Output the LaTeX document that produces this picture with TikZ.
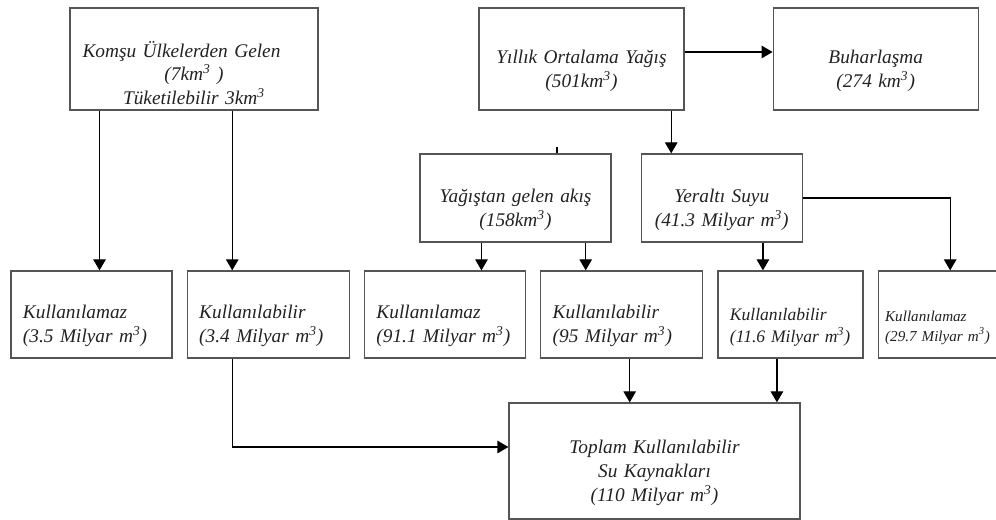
\documentclass[tikz,border=0pt]{standalone}
\usepackage{fontspec}
\setmainfont{Liberation Serif}
\usepackage{tikz}
\usetikzlibrary{arrows.meta,positioning,calc}
\definecolor{Ink}{HTML}{222222}
\definecolor{Frame}{HTML}{555555}
\tikzset{
  drop/.style={execute at begin node={\rule{0pt}{#1}}},
  box/.style={draw=Frame,line width=0.7pt,fill=white,minimum height=1.74cm,font=\fontsize{11}{13.5}\selectfont\itshape,text=Ink,inner sep=0pt,drop=21pt},
  cbox/.style={box,text width=#1,align=center,inner xsep=0pt},
  leftbox/.style={box,text width=#1,align=left,inner xsep=0.24cm},
  arr/.style={-{Triangle[length=2.2mm,width=2.5mm]},draw=black,line width=0.7pt},
  wire/.style={draw=black,line width=0.7pt}
}

\begin{document}
\begin{tikzpicture}[node distance=0.28cm]
  \useasboundingbox (0,0) rectangle (19.92,10.4);
  % top row
  \node[cbox=4.96cm,minimum height=2.04cm,drop=25pt] (komsu) at (3.88,9.22) {Komşu Ülkelerden Gelen\hspace*{0.5cm}\mbox{}\\(7km\textsuperscript{3} )\\Tüketilebilir 3km\textsuperscript{3}};
  \node[cbox=4.1cm,minimum height=2.04cm,drop=15.5pt] (yagis) at (11.63,9.22) {Yıllık Ortalama Yağış\\(501km\textsuperscript{3})};
  \node[cbox=4.1cm,minimum height=2.04cm,drop=15.5pt,right=1.76cm of yagis] (buhar) {Buharlaşma\\(274 km\textsuperscript{3})};
  % middle row
  \node[cbox=3.82cm,minimum height=1.76cm] (akis) at (10.31,6.44) {Yağıştan gelen akış\\(158km\textsuperscript{3})};
  \node[cbox=3.22cm,minimum height=1.76cm,right=0.58cm of akis] (yeralti) {Yeraltı Suyu\\(41.3 Milyar m\textsuperscript{3})};
  % bottom row
  \node[leftbox=2.74cm] (kmaz1) at (1.83,4.11) {Kullanılamaz\\(3.5 Milyar m\textsuperscript{3})};
  \node[leftbox=2.76cm,right=of kmaz1] (kbilir1) {Kullanılabilir\\(3.4 Milyar m\textsuperscript{3})};
  \node[leftbox=2.74cm,right=of kbilir1] (kmaz2) {Kullanılamaz\\(91.1 Milyar m\textsuperscript{3})};
  \node[leftbox=2.76cm,right=of kmaz2] (kbilir2) {Kullanılabilir\\(95 Milyar m\textsuperscript{3})};
  \node[leftbox=2.42cm,right=of kbilir2,font=\fontsize{10}{12.5}\selectfont\itshape] (kbilir3) {Kullanılabilir\\(11.6 Milyar m\textsuperscript{3})};
  \node[leftbox=2.5cm,right=of kbilir3,inner xsep=0.14cm,font=\fontsize{8.6}{11.5}\selectfont\itshape,drop=19pt] (kmaz3) {Kullanılamaz\\(29.7 Milyar m\textsuperscript{3})};
  \node[cbox=5.82cm,minimum height=2.32cm] (toplam) at (13.09,1.18) {Toplam Kullanılabilir\\Su Kaynakları\\(110 Milyar m\textsuperscript{3})};
  % connectors
  \draw[arr] ([xshift=0.16cm]kmaz1.north |- komsu.south) -- ([xshift=0.16cm]kmaz1.north);
  \draw[arr] ([xshift=-0.72cm]kbilir1.north |- komsu.south) -- ([xshift=-0.72cm]kbilir1.north);
  \draw[arr] ([yshift=0.14cm]yagis.east) -- ([yshift=0.14cm]buhar.west);
  \draw[arr] ([xshift=-1.01cm]yeralti.north |- yagis.south) -- ([xshift=-1.01cm]yeralti.north);
  \draw[wire] ([xshift=0.83cm]akis.north) -- ++(0,0.12);
  \draw[arr] ([xshift=0.73cm]kmaz2.north |- akis.south) -- ([xshift=0.73cm]kmaz2.north);
  \draw[arr] ([xshift=-0.72cm]kbilir2.north |- akis.south) -- ([xshift=-0.72cm]kbilir2.north);
  \draw[arr] ([xshift=-0.55cm]kbilir3.north |- yeralti.south) -- ([xshift=-0.55cm]kbilir3.north);
  \draw[arr] (yeralti.east) -| ([xshift=0.05cm]kmaz3.north);
  \draw[arr] ([xshift=0.16cm]kbilir2.south) -- ([xshift=0.16cm]kbilir2.south |- toplam.north);
  \draw[arr] ([xshift=-0.27cm]kbilir3.south) -- ([xshift=-0.27cm]kbilir3.south |- toplam.north);
  \draw[arr] ([xshift=-0.72cm]kbilir1.south) |- ([yshift=0.28cm]toplam.west);
\end{tikzpicture}
\end{document}
